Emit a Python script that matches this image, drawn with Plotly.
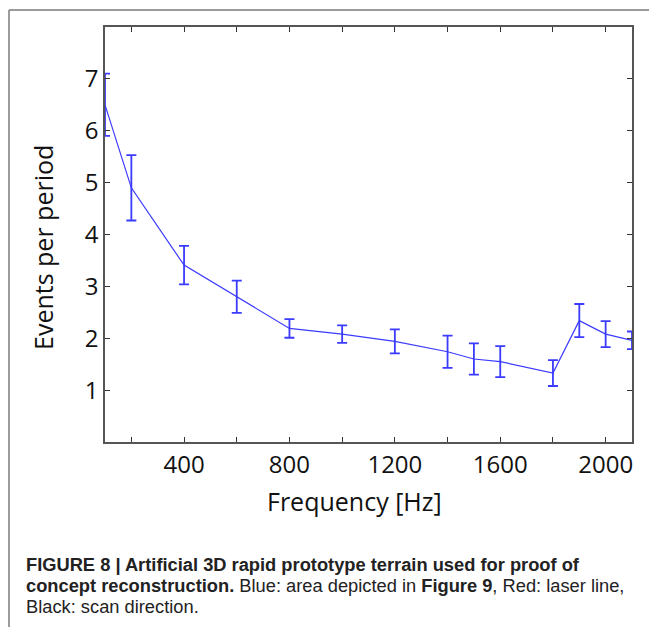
import plotly.graph_objects as go

# ---- data ----
freq_hz = [100, 200, 400, 600, 800, 1000, 1200, 1400, 1500, 1600, 1800, 1900, 2000, 2100]
events = [6.50, 4.90, 3.41, 2.80, 2.19, 2.08, 1.94, 1.74, 1.60, 1.55, 1.33, 2.34, 2.08, 1.96]
err = [0.60, 0.63, 0.37, 0.31, 0.18, 0.17, 0.23, 0.31, 0.30, 0.30, 0.25, 0.32, 0.25, 0.17]

x_tickvals = [200, 400, 600, 800, 1000, 1200, 1400, 1600, 1800, 2000]
x_ticktext = ["", "400", "", "800", "", "1200", "", "1600", "", "2000"]
y_tickvals = [1, 2, 3, 4, 5, 6, 7]
y_ticktext = ["1", "2", "3", "4", "5", "6", "7"]

caption_line1 = "<b>FIGURE 8 | Artificial 3D rapid prototype terrain used for proof of</b>"
caption_line2 = "<b>concept reconstruction.</b> Blue: area depicted in <b>Figure 9</b>, Red: laser line,"
caption_line3 = "Black: scan direction."

# ---- layout geometry (page pixels; page body has an 8px margin) ----
PAGE_W, PAGE_H = 657, 635
OFF = 8
W, H = PAGE_W - 2 * OFF, PAGE_H - 2 * OFF
L, R, T, B = 105 - OFF, 632 - OFF, 27 - OFF, 442 - OFF
pw, ph = R - L, B - T


def px_x(px):
    return (px - OFF - L) / pw


def px_y(py):
    return (B - (py - OFF)) / ph


BLUE = "#3b3bff"
FONT_AX = "Open Sans, Lato, sans-serif"
FONT_CAP = "Liberation Sans, Arial, sans-serif"

fig = go.Figure()
fig.add_trace(go.Scatter(
    x=freq_hz, y=events, mode="lines",
    line=dict(color=BLUE, width=1.2),
    error_y=dict(type="data", array=err, visible=True, color=BLUE, thickness=1.8, width=5),
    showlegend=False, hoverinfo="x+y",
))

axis_common = dict(
    showline=True, linecolor="#555555", linewidth=1.5, mirror="ticks",
    ticks="inside", ticklen=5, tickwidth=1.2, tickcolor="#333333",
    showgrid=False, zeroline=False,
    tickfont=dict(family=FONT_AX, size=24, color="#111111"),
)

fig.update_xaxes(range=[100, 2100], tickvals=x_tickvals, ticktext=x_ticktext, **axis_common)
fig.update_yaxes(range=[0, 8], tickvals=y_tickvals, ticktext=y_ticktext, **axis_common)

annotations = [
    dict(text="Frequency [Hz]", x=px_x(354), y=px_y(501), xref="paper", yref="paper",
         showarrow=False, xanchor="center", yanchor="middle",
         font=dict(family=FONT_AX, size=25, color="#111111")),
    dict(text="Events per period", x=px_x(43), y=px_y(248), xref="paper", yref="paper",
         showarrow=False, xanchor="center", yanchor="middle", textangle=-90,
         font=dict(family=FONT_AX, size=25, color="#111111")),
]
for txt, yc in [(caption_line1, 564), (caption_line2, 585), (caption_line3, 606)]:
    annotations.append(dict(
        text=txt, x=px_x(24), y=px_y(yc), xref="paper", yref="paper",
        showarrow=False, xanchor="left", yanchor="middle", align="left",
        font=dict(family=FONT_CAP, size=18.3, color="#222222"),
    ))

shapes = [
    dict(type="line", xref="paper", yref="paper", x0=px_x(9), x1=px_x(9),
         y0=px_y(10), y1=px_y(PAGE_H + 20), line=dict(color="#7a7a7a", width=1.5)),
    dict(type="line", xref="paper", yref="paper", x0=px_x(9), x1=px_x(PAGE_W + 20),
         y0=px_y(10), y1=px_y(10), line=dict(color="#7a7a7a", width=1.5)),
]

fig.update_layout(
    width=W, height=H,
    margin=dict(l=L, r=W - R, t=T, b=H - B, autoexpand=False),
    paper_bgcolor="white", plot_bgcolor="white",
    annotations=annotations, shapes=shapes,
    showlegend=False,
)

fig.write_html("out.html")
